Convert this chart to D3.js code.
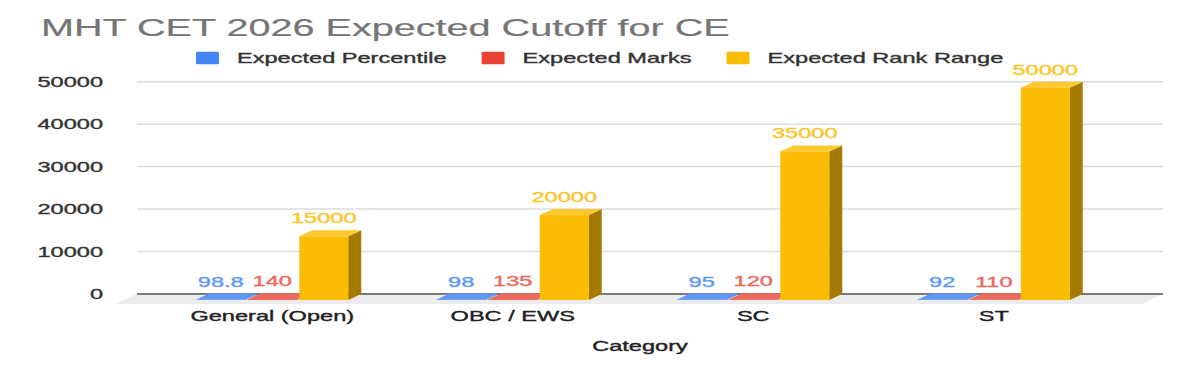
<!DOCTYPE html>
<html>
<head>
<meta charset="utf-8">
<script src="https://cdn.jsdelivr.net/npm/d3@7"></script>
<style>
  html, body { margin: 0; padding: 0; background: #fff; }
  svg text { font-family: "Liberation Sans", Arial, sans-serif; }
</style>
</head>
<body>
<svg id="chart"></svg>
<script>
(function () {
    const width = 1200;
    const height = 371;
    // the source picture is stretched sideways, so text is too
    const stretch = 1.685;

    const categories = ["General (Open)", "OBC / EWS", "SC", "ST"];
    const seriesNames = ["Expected Percentile", "Expected Marks", "Expected Rank Range"];
    const percentile = [98.8, 98, 95, 92];
    const marks = [140, 135, 120, 110];
    const rankRange = [15000, 20000, 35000, 50000];
    const yTicks = [0, 10000, 20000, 30000, 40000, 50000];

    const seriesValues = [percentile, marks, rankRange];
    const colors = ["#4285f4", "#ea4335", "#fbbc04"];
    const topColors = ["#5e97f6", "#ef6a5c", "#fdc932"];
    const sideColors = ["#2a5db0", "#a32f25", "#a47b00"];
    const labelColors = ["#5f98f6", "#ee675a", "#fcc52a"];

    // 3D depth: front of each bar sits left/down of the back wall
    const depthX = 13, depthY = 6;
    const floorX = 21, floorY = 10;
    const wallLeft = 137, wallRight = 1163;

    const svg = d3.select("#chart")
        .attr("width", width)
        .attr("height", height)
        .attr("viewBox", `0 0 ${width} ${height}`);

    const y = d3.scaleLinear().domain([0, 50000]).range([294, 81.7]);

    const x0 = d3.scaleBand()
        .domain(categories)
        .range([152, 1114])
        .paddingInner(0.368)
        .paddingOuter(0.184);

    const x1 = d3.scaleBand()
        .domain(seriesNames)
        .range([0, x0.bandwidth()])
        .paddingInner(0.05);

    function addText(parent, x, yPos, str, size, fill, anchor) {
        return parent.append("text")
            .attr("transform", `translate(${x},${yPos}) scale(${stretch},1)`)
            .attr("text-anchor", anchor || "start")
            .style("font-size", size + "px")
            .attr("fill", fill)
            .attr("stroke", fill)
            .attr("stroke-width", 0.35)
            .text(str);
    }

    // Title
    addText(svg, 41, 36, "MHT CET 2026 Expected Cutoff for CE", 23.5, "#757575")
        .attr("stroke-width", 0.2);

    // Legend, laid out left to right
    const legend = svg.append("g");
    let lx = 196;
    seriesNames.forEach((name, i) => {
        legend.append("rect")
            .attr("x", lx).attr("y", 51.7)
            .attr("width", 23).attr("height", 12.6)
            .attr("rx", 1.5)
            .attr("fill", colors[i]);
        const t = addText(legend, lx + 41, 63, name, 14, "#333");
        lx += 41 + t.node().getComputedTextLength() * stretch + 35;
    });

    // Floor
    svg.append("polygon")
        .attr("points", [
            [wallLeft, y(0)], [wallRight, y(0)],
            [wallRight - floorX, y(0) + floorY], [wallLeft - floorX, y(0) + floorY]
        ].map(p => p.join(",")).join(" "))
        .attr("fill", "#ececec");

    // Gridlines on the back wall
    svg.append("g")
        .selectAll("line")
        .data(yTicks.filter(d => d > 0))
        .enter()
        .append("line")
        .attr("x1", wallLeft).attr("x2", wallRight)
        .attr("y1", d => y(d)).attr("y2", d => y(d))
        .attr("stroke", "#dcdcdc")
        .attr("stroke-width", 1.5);

    svg.append("line")
        .attr("x1", wallLeft).attr("x2", wallRight)
        .attr("y1", y(0)).attr("y2", y(0))
        .attr("stroke", "#7a7a7a")
        .attr("stroke-width", 2);

    // Y tick labels
    yTicks.forEach(t => {
        addText(svg, 103, y(t) + 5, String(t), 14, "#333", "end");
    });

    // Bars
    const bars = svg.append("g");
    categories.forEach((cat, ci) => {
        seriesNames.forEach((s, si) => {
            const v = seriesValues[si][ci];
            const bx = x0(cat) + x1(s);
            const bw = x1.bandwidth();
            const yt = y(v);
            const yb = y(0);
            const g = bars.append("g");

            // side
            g.append("polygon")
                .attr("points", [
                    [bx + bw, yt + depthY], [bx + bw + depthX, yt],
                    [bx + bw + depthX, yb], [bx + bw, yb + depthY]
                ].map(p => p.join(",")).join(" "))
                .attr("fill", sideColors[si]);
            // top
            g.append("polygon")
                .attr("points", [
                    [bx, yt + depthY], [bx + bw, yt + depthY],
                    [bx + bw + depthX, yt], [bx + depthX, yt]
                ].map(p => p.join(",")).join(" "))
                .attr("fill", topColors[si]);
            // front
            g.append("rect")
                .attr("x", bx)
                .attr("y", yt + depthY)
                .attr("width", bw)
                .attr("height", Math.max(0, yb - yt))
                .attr("fill", colors[si]);

            addText(g, bx + bw / 2, yt - 7, String(v), 14, labelColors[si], "middle");
        });

        addText(svg, x0(cat) + x0.bandwidth() / 2, 321, cat, 14, "#222", "middle");
    });

    // X axis title
    addText(svg, 640, 351, "Category", 14, "#222", "middle");
})();
</script>
</body>
</html>
